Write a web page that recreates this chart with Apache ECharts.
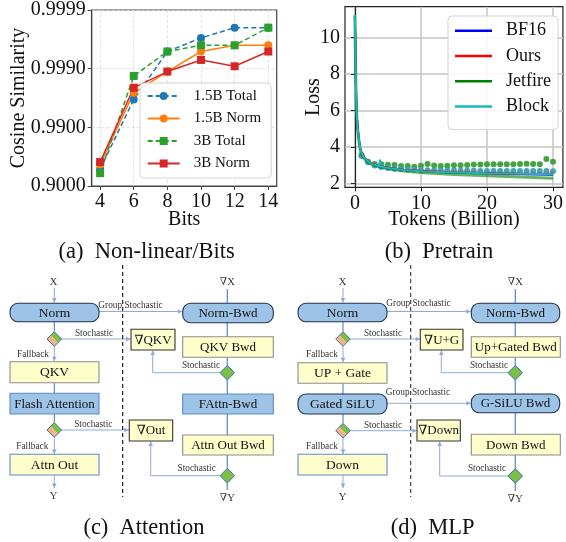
<!DOCTYPE html>
<html><head><meta charset="utf-8">
<script src="https://cdn.jsdelivr.net/npm/echarts@6/dist/echarts.min.js"></script>
<style>html,body{margin:0;padding:0;background:#fff}#c{width:566px;height:542px}</style>
</head><body><div id="c"></div>
<script>
// ---------- (a) Non-linear / Bits ----------
const bits = [4, 6, 8, 10, 12, 14];
const total15B = [0.9484, 0.99665, 0.99949, 0.99970, 0.99980, 0.99980];
const norm15B  = [0.9570, 0.99742, 0.99888, 0.99949, 0.99960, 0.99960];
const total3B  = [0.9396, 0.99867, 0.99949, 0.99960, 0.99960, 0.99980];
const norm3B   = [0.9609, 0.99789, 0.99888, 0.99929, 0.99909, 0.99949];
const yTickValues = [1, 2, 3, 4];
const yTickLabels = ['0.9000', '0.9900', '0.9990', '0.9999'];

// ---------- (b) Pretrain ----------
const lossTokens  = [0, 0.1, 0.2, 0.3, 0.45, 0.6, 0.8, 1.0, 1.45, 2, 2.5, 3.3, 4.4, 5.5, 7.4, 10.4, 15, 20, 25, 30];
const bf16Loss    = [11.25, 8.5, 6.5, 5.6, 4.9, 4.4, 3.9, 3.65, 3.37, 3.2, 3.08, 2.97, 2.88, 2.81, 2.73, 2.65, 2.58, 2.54, 2.5, 2.47];
const oursLoss    = [11.2, 8.6, 6.6, 5.7, 4.95, 4.45, 3.95, 3.7, 3.4, 3.22, 3.1, 2.99, 2.9, 2.83, 2.75, 2.67, 2.6, 2.57, 2.54, 2.52];
const jetfireLoss = [11.2, 8.4, 6.4, 5.5, 4.85, 4.35, 3.85, 3.6, 3.33, 3.16, 3.05, 2.94, 2.85, 2.77, 2.68, 2.58, 2.48, 2.41, 2.34, 2.28];
const blockTokens = [0, 0.1, 0.2, 0.3, 0.45, 0.6, 0.8, 1.0, 1.45, 2, 2.5, 3.3, 3.7, 3.8, 3.9, 4.4, 5.5, 7.4, 10.4, 15, 20, 25, 30];
const blockLoss   = [11.25, 8.5, 6.5, 5.6, 4.9, 4.4, 3.9, 3.65, 3.37, 3.2, 3.08, 2.97, 2.93, 3.3, 2.92, 2.88, 2.81, 2.73, 2.65, 2.59, 2.55, 2.52, 2.49];
const dotTokens   = [1,2,3,4,5,6,7,8,9,10,11,12,13,14,15,16,17,18,19,20,21,22,23,24,25,26,27,28,29,30];
const jetfireDots = [3.55, 3.19, 3.06, 3.04, 3.02, 3.0, 2.95, 2.95, 2.91, 2.97, 3.06, 2.98, 2.95, 2.96, 2.99, 2.99, 3.01, 3.03, 3.03, 3.04, 3.04, 3.04, 3.04, 3.04, 3.06, 3.08, 3.06, 3.04, 3.33, 3.19];
const blockDots   = [3.5, 3.15, 2.98, 2.9, 2.84, 2.8, 2.78, 2.76, 2.74, 2.73, 2.72, 2.71, 2.71, 2.7, 2.7, 2.69, 2.69, 2.69, 2.68, 2.68, 2.68, 2.68, 2.68, 2.68, 2.68, 2.68, 2.67, 2.67, 2.67, 2.66];
const lossTicks = [2, 4, 6, 8, 10];
const tokenTicks = [0, 10, 20, 30];

const serif = '"Liberation Serif","DejaVu Serif","Times New Roman",serif';
const nines = v => -Math.log10(1 - v);
const pairs = (xs, ys, f) => xs.map((x, i) => [x, f ? f(ys[i]) : ys[i]]);

// ---------- diagram helpers (layout only) ----------
const G = [];
const BLUE = '#9dc3e6', YEL = '#ffffcc', DARK = '#22314f', BSTROKE = '#5b8bd0', GSTROKE = '#8c8c8c';
const THIN = '#8eaadb', CONN = '#7096d4';
function box(x1, y1, x2, y2, fill, stroke, r, txt, fs) {
  G.push({type: 'rect', shape: {x: x1, y: y1, width: x2 - x1, height: y2 - y1, r: r || 0},
    style: {fill: fill, stroke: stroke, lineWidth: 1.1}, z: 10});
  if (txt) G.push({type: 'text', x: (x1 + x2) / 2, y: (y1 + y2) / 2 + 0.5, z: 11,
    style: {text: txt, font: (fs || 13) + 'px ' + serif, fill: '#111', align: 'center', verticalAlign: 'middle'}});
}
function line(pts, color, w, arrow, dash) {
  G.push({type: 'polyline', shape: {points: pts}, style: {stroke: color, lineWidth: w, fill: null, lineDash: dash || null}, z: 5});
  if (arrow) {
    const [x2, y2] = pts[pts.length - 1], [x1, y1] = pts[pts.length - 2];
    const dx = x2 - x1, dy = y2 - y1, L = Math.hypot(dx, dy), ux = dx / L, uy = dy / L, al = 4.5, aw = 2.3;
    G.push({type: 'polygon', z: 6, shape: {points: [[x2, y2], [x2 - ux * al - uy * aw, y2 - uy * al + ux * aw], [x2 - ux * al + uy * aw, y2 - uy * al - ux * aw]]},
      style: {fill: color}});
  }
}
function diamond(cx, cy, r, split) {
  if (split) {
    G.push({type: 'polygon', z: 8, shape: {points: [[cx, cy - r], [cx + r, cy], [cx + r / 2, cy + r / 2], [cx - r / 2, cy - r / 2]]}, style: {fill: '#7cc043'}});
    G.push({type: 'polygon', z: 8, shape: {points: [[cx - r / 2, cy - r / 2], [cx + r / 2, cy + r / 2], [cx, cy + r], [cx - r, cy]]}, style: {fill: '#f4b183'}});
  } else {
    G.push({type: 'polygon', z: 8, shape: {points: [[cx, cy - r], [cx + r, cy], [cx, cy + r], [cx - r, cy]]}, style: {fill: '#7cc043'}});
  }
  G.push({type: 'polygon', z: 9, shape: {points: [[cx, cy - r], [cx + r, cy], [cx, cy + r], [cx - r, cy]]}, style: {fill: null, stroke: '#3f6fbf', lineWidth: 1}});
}
function label(x, y, txt, fs, color, align) {
  G.push({type: 'text', x: x, y: y, z: 12,
    style: {text: txt, font: fs + 'px ' + serif, fill: color || '#333', align: align || 'center', verticalAlign: 'middle'}});
}

// ---- (c) Attention ----
label(53.5, 282, 'X', 10.5, '#333');
line([[54.3, 288], [54.3, 302.5]], THIN, 1, true);
box(10, 303.3, 99, 321.7, BLUE, DARK, 8, 'Norm', 13.5);
line([[99, 311.5], [182.3, 311.5]], THIN, 1, true);
label(130.5, 305.5, 'Group Stochastic', 9.3, '#333');
line([[54.3, 321.7], [54.3, 331.7]], '#4472c4', 1);
diamond(54.3, 339, 7.3, true);
line([[61.6, 339], [130.5, 339]], THIN, 1, true);
label(94, 333.5, 'Stochastic', 9.3);
label(33, 354.5, 'Fallback', 9.3);
line([[54.3, 346.3], [54.3, 361.3]], THIN, 1, true);
box(10, 361.7, 99, 382.7, YEL, GSTROKE, 0, 'QKV', 13.5);
line([[54.3, 382.7], [54.3, 393.3]], '#4472c4', 1);
box(10, 393.3, 99, 414, BLUE, BSTROKE, 0, 'Flash Attention', 13);
line([[54.3, 414], [54.3, 422.7]], '#4472c4', 1);
diamond(54.3, 430, 7.3, true);
line([[61.6, 430], [128.8, 430]], THIN, 1, true);
label(93.3, 424.5, 'Stochastic', 9.3);
label(32.3, 446.5, 'Fallback', 9.3);
line([[54.3, 437.3], [54.3, 454]], THIN, 1, true);
box(10, 454.3, 99, 475, YEL, BSTROKE, 0, 'Attn Out', 13.5);
line([[54.3, 475], [54.3, 488]], THIN, 1, true);
label(53.5, 496.5, 'Y', 10.5, '#333');
line([[122.7, 265], [122.7, 497]], '#111', 1.1, false, [4, 3]);
label(227.3, 282, '\u2207X', 10.5, '#333');
line([[227.3, 289], [227.3, 303.3]], CONN, 1.4);
box(182.7, 303.3, 273.3, 322.7, BLUE, DARK, 8, 'Norm-Bwd', 13);
line([[227.3, 322.7], [227.3, 336.7]], CONN, 1.4);
box(182.7, 336.7, 273.3, 357.3, YEL, GSTROKE, 0, 'QKV Bwd', 13);
line([[227.3, 357.3], [227.3, 394]], CONN, 1.4);
diamond(227.3, 372.7, 7.3, false);
line([[220, 372.7], [152.7, 372.7], [152.7, 350.6]], THIN, 1, true);
label(201, 366, 'Stochastic', 9.3);
box(131, 329.3, 175, 350, YEL, '#333', 0, '\u2207QKV', 13);
box(182.7, 394, 273.3, 414, BLUE, BSTROKE, 0, 'FAttn-Bwd', 13);
line([[227.3, 414], [227.3, 435]], CONN, 1.4);
box(182.7, 435, 273.3, 455, YEL, GSTROKE, 0, 'Attn Out Bwd', 13);
line([[227.3, 455], [227.3, 490]], CONN, 1.4);
diamond(227.3, 475.7, 7.3, false);
line([[220, 475.7], [150.7, 475.7], [150.7, 441.6]], THIN, 1, true);
label(196.7, 468.3, 'Stochastic', 9.3);
box(129.3, 420, 172.7, 441, YEL, '#333', 0, '\u2207Out', 13);
label(227.3, 498.5, '\u2207Y', 10.5, '#333');

// ---- (d) MLP ----
label(342.5, 282, 'X', 10.5, '#333');
line([[343, 288], [343, 302.5]], THIN, 1, true);
box(298, 303.3, 387, 321.7, BLUE, DARK, 8, 'Norm', 13.5);
line([[387, 311.5], [470.8, 311.5]], THIN, 1, true);
label(418.5, 304, 'Group Stochastic', 9.3, '#333');
line([[343, 321.7], [343, 331.7]], '#4472c4', 1);
diamond(343, 339, 7.3, true);
line([[350.3, 339], [420.2, 339]], THIN, 1, true);
label(383, 333.5, 'Stochastic', 9.3);
label(322, 354.5, 'Fallback', 9.3);
line([[343, 346.3], [343, 362.3]], THIN, 1, true);
box(298, 362.7, 387, 383.3, YEL, GSTROKE, 0, 'UP + Gate', 13.5);
line([[343, 383.3], [343, 394]], '#4472c4', 1);
box(298, 394, 387, 414, BLUE, DARK, 8, 'Gated SiLU', 13.5);
line([[387, 403.3], [470.8, 403.3]], THIN, 1, true);
label(418, 392.5, 'Group Stochastic', 9.3, '#333');
line([[343, 414], [343, 423.4]], '#4472c4', 1);
diamond(343, 430.7, 7.3, true);
line([[350.3, 430.7], [416.8, 430.7]], THIN, 1, true);
label(383, 425.2, 'Stochastic', 9.3);
label(322, 446.5, 'Fallback', 9.3);
line([[343, 438], [343, 454]], THIN, 1, true);
box(298, 454.3, 387, 475, YEL, BSTROKE, 0, 'Down', 13.5);
line([[343, 475], [343, 488]], THIN, 1, true);
label(342.5, 497, 'Y', 10.5, '#333');
line([[410.7, 265], [410.7, 497]], '#333', 1.1, false, [4, 3]);
label(515.3, 282, '\u2207X', 10.5, '#333');
line([[515.3, 289], [515.3, 303.3]], CONN, 1.4);
box(471.3, 303.3, 559.7, 322.7, BLUE, DARK, 8, 'Norm-Bwd', 13);
line([[515.3, 322.7], [515.3, 336.7]], CONN, 1.4);
box(471.3, 336.7, 560.3, 357.3, YEL, GSTROKE, 0, 'Up+Gated Bwd', 13);
line([[515.3, 357.3], [515.3, 394]], CONN, 1.4);
diamond(515.3, 372.7, 7.3, false);
line([[508, 372.7], [441.3, 372.7], [441.3, 350.6]], THIN, 1, true);
label(489, 366, 'Stochastic', 9.3);
box(420.3, 329.3, 463, 350, YEL, '#333', 0, '\u2207U+G', 13);
box(471.3, 394, 559.7, 412.7, BLUE, DARK, 8, 'G-SiLU Bwd', 13);
line([[515.3, 412.7], [515.3, 434.3]], CONN, 1.4);
box(471.3, 434.3, 560.3, 455, YEL, GSTROKE, 0, 'Down Bwd', 13);
line([[515.3, 455], [515.3, 491]], CONN, 1.4);
diamond(515.3, 476, 7.3, false);
line([[508, 476], [439.7, 476], [439.7, 441.6]], THIN, 1, true);
label(487, 468.3, 'Stochastic', 9.3);
box(417, 420, 460.3, 441, YEL, '#333', 0, '\u2207Down', 13);
label(515.3, 499.3, '\u2207Y', 10.5, '#333');

// ---- captions ----
label(146.7, 252, '(a)  Non-linear/Bits', 22.5, '#111');
label(439, 252, '(b)  Pretrain', 22.5, '#111');
label(144, 528, '(c)  Attention', 22.5, '#111');
label(432.7, 528, '(d)  MLP', 22.5, '#111');

const axisText = {fontFamily: serif, fontSize: 20, color: '#111'};
const chart = echarts.init(document.getElementById('c'), null, {renderer: 'canvas'});
chart.setOption({
  backgroundColor: '#fff',
  animation: false,
  textStyle: {fontFamily: serif},
  grid: [
    {left: 91.7, top: 10, width: 185, height: 176, show: true, borderColor: '#444', borderWidth: 1.2, backgroundColor: 'transparent'},
    {left: 345, top: 6.7, width: 220.5, height: 180.6, show: true, borderColor: '#222', borderWidth: 1.2, backgroundColor: 'transparent'}
  ],
  xAxis: [
    {gridIndex: 0, type: 'value', min: 3.5, max: 14.5,
      name: 'Bits', nameLocation: 'middle', nameGap: 24, nameTextStyle: axisText, nameMoveOverlap: false,
      axisLine: {lineStyle: {color: '#444', width: 1.2}},
      axisTick: {length: 4, customValues: bits, lineStyle: {color: '#444'}},
      axisLabel: {customValues: bits, margin: 6, ...axisText},
      splitLine: {show: true, lineStyle: {color: '#dcdcdc', type: [3, 2], width: 0.8}}},
    {gridIndex: 1, type: 'value', min: -1.5, max: 31.5,
      name: 'Tokens (Billion)', nameLocation: 'middle', nameGap: 22, nameTextStyle: axisText, nameMoveOverlap: false,
      axisLine: {lineStyle: {color: '#222', width: 1.2}},
      axisTick: {length: 4, customValues: tokenTicks, lineStyle: {color: '#222'}},
      axisLabel: {customValues: tokenTicks, margin: 6, ...axisText},
      splitLine: {show: true, lineStyle: {color: '#c4c4c4', width: 1.5}}}
  ],
  yAxis: [
    {gridIndex: 0, type: 'value', min: 1, max: 4, interval: 1,
      name: 'Cosine Similarity', nameLocation: 'middle', nameGap: 63, nameTextStyle: axisText, nameMoveOverlap: false,
      axisLine: {show: true, lineStyle: {color: '#444', width: 1.2}},
      axisTick: {show: true, length: 4, lineStyle: {color: '#444'}},
      axisLabel: {margin: 6, ...axisText, formatter: v => yTickLabels[yTickValues.indexOf(Math.round(v))] || ''},
      splitLine: {show: true, lineStyle: {color: '#dcdcdc', type: [3, 2], width: 0.8}}},
    {gridIndex: 1, type: 'value', min: 1.78, max: 11.7,
      name: 'Loss', nameLocation: 'middle', nameGap: 21, nameTextStyle: axisText, nameMoveOverlap: false,
      axisLine: {show: true, lineStyle: {color: '#222', width: 1.2}},
      axisTick: {show: true, length: 4, customValues: lossTicks, lineStyle: {color: '#222'}},
      axisLabel: {customValues: lossTicks, margin: 5, ...axisText},
      splitLine: {show: true, lineStyle: {color: '#c4c4c4', width: 1.5}}}
  ],
  legend: [
    {orient: 'vertical', left: 140, top: 83, padding: [5.5, 10, 7, 6.7], itemWidth: 32, itemHeight: 10, itemGap: 7.5,
      backgroundColor: 'rgba(255,255,255,0.85)', borderColor: '#d4d4d4', borderWidth: 1, borderRadius: 4,
      textStyle: {fontFamily: serif, fontSize: 15, color: '#111', padding: [0, 0, 0, 9]},
      data: ['1.5B Total', '1.5B Norm', '3B Total', '3B Norm']},
    {orient: 'vertical', left: 448, top: 16, padding: [5.7, 7, 14, 7], itemWidth: 37, itemHeight: 2.5, itemGap: 7.3, icon: 'rect',
      backgroundColor: 'rgba(255,255,255,0.85)', borderColor: '#d4d4d4', borderWidth: 1, borderRadius: 4,
      textStyle: {fontFamily: serif, fontSize: 18, color: '#111', padding: [0, 0, 0, 9]},
      data: ['BF16', 'Ours', {name: 'Jetfire', itemStyle: {opacity: 1}}, 'Block']}
  ],
  series: [
    {name: '1.5B Total', type: 'line', xAxisIndex: 0, yAxisIndex: 0, data: pairs(bits, total15B, nines),
      color: '#1f77b4', symbol: 'circle', symbolSize: 8, lineStyle: {width: 1.5, type: [5, 3]}},
    {name: '1.5B Norm', type: 'line', xAxisIndex: 0, yAxisIndex: 0, data: pairs(bits, norm15B, nines),
      color: '#ff7f0e', symbol: 'circle', symbolSize: 8, lineStyle: {width: 1.5}},
    {name: '3B Total', type: 'line', xAxisIndex: 0, yAxisIndex: 0, data: pairs(bits, total3B, nines),
      color: '#2ca02c', symbol: 'rect', symbolSize: 8, lineStyle: {width: 1.5, type: [5, 3]}},
    {name: '3B Norm', type: 'line', xAxisIndex: 0, yAxisIndex: 0, data: pairs(bits, norm3B, nines),
      color: '#d62728', symbol: 'rect', symbolSize: 8, lineStyle: {width: 1.5}},

    {name: 'BF16', type: 'line', xAxisIndex: 1, yAxisIndex: 1, data: pairs(lossTokens, bf16Loss),
      color: '#0000ff', symbol: 'none', lineStyle: {width: 2}},
    {name: 'Ours', type: 'line', xAxisIndex: 1, yAxisIndex: 1, data: pairs(lossTokens, oursLoss),
      color: '#ff0000', symbol: 'none', lineStyle: {width: 2}},
    {name: 'Jetfire', type: 'line', xAxisIndex: 1, yAxisIndex: 1, data: pairs(lossTokens, jetfireLoss),
      color: '#008000', symbol: 'none', lineStyle: {width: 3, opacity: 0.6}},
    {name: 'Block', type: 'line', xAxisIndex: 1, yAxisIndex: 1, data: pairs(blockTokens, blockLoss),
      color: '#17b8b8', symbol: 'none', lineStyle: {width: 2}},
    {name: 'Jetfire dots', type: 'scatter', xAxisIndex: 1, yAxisIndex: 1, data: pairs(dotTokens, jetfireDots),
      symbolSize: 6, itemStyle: {color: '#3a9e3a', opacity: 0.95}},
    {name: 'Block dots', type: 'scatter', xAxisIndex: 1, yAxisIndex: 1, data: pairs(dotTokens, blockDots),
      symbolSize: 6, itemStyle: {color: '#3d9fb3', opacity: 0.95}}
  ],
  graphic: {elements: G}
});
</script></body></html>
